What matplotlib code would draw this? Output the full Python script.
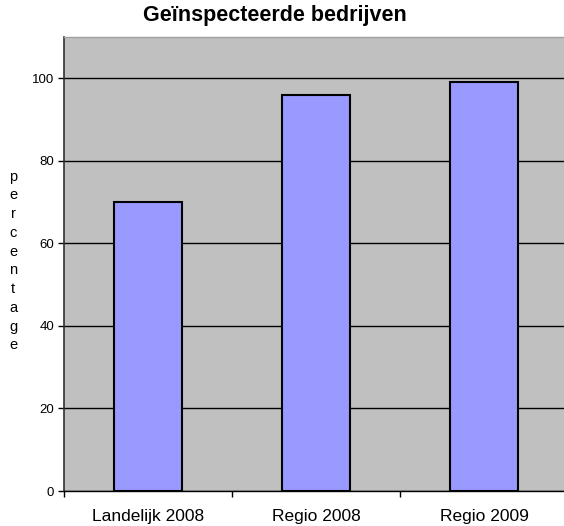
import numpy as np
import matplotlib
matplotlib.use("Agg")
import matplotlib.pyplot as plt

plt.rcParams["font.family"] = ["Liberation Sans", "DejaVu Sans"]

categories = ["Landelijk 2008", "Regio 2008", "Regio 2009"]
values = [70, 96, 99]
yticks = [0, 20, 40, 60, 80, 100]

fig = plt.figure(figsize=(5.64, 5.26), dpi=100)
# plot area runs slightly past the right edge, as in the original screenshot
ax = fig.add_axes([64 / 564, 35 / 526, 504 / 564, 454 / 526])
ax.set_facecolor("#c0c0c0")

xs = np.arange(len(categories))
ax.bar(xs, values, width=0.41, color="#9999ff", edgecolor="black",
       linewidth=1.5, zorder=3)

ax.set_xlim(-0.5, 2.5)
ax.set_ylim(0, 110)
ax.set_yticks(yticks)
ax.set_yticklabels([str(v) for v in yticks], fontsize=9.5)
ax.yaxis.grid(True, color="black", linewidth=1.0, zorder=1)
ax.set_axisbelow(True)

# category boundaries carry the ticks, labels sit in the middle
ax.set_xticks([-0.5, 0.5, 1.5, 2.5])
ax.set_xticklabels([])
ax.set_xticks(xs, minor=True)
ax.set_xticklabels(categories, minor=True, fontsize=12.5)
ax.tick_params(axis="x", which="minor", length=0, pad=13)
ax.tick_params(axis="x", which="major", length=4, width=1, direction="out")
ax.tick_params(axis="y", length=4, width=1, direction="out", pad=3)

ax.spines["right"].set_visible(False)
ax.spines["top"].set_color("#a0a0a0")
ax.spines["top"].set_linewidth(1.0)
ax.spines["left"].set_color("#303030")
ax.spines["left"].set_linewidth(1.2)
ax.spines["bottom"].set_color("black")
ax.spines["bottom"].set_linewidth(1.0)

fig.text(275 / 564, 1 - 16 / 526, "Geïnspecteerde bedrijven", ha="center",
         va="center", fontsize=15.5, fontweight="bold")
fig.text(13 / 564, 1 - 261 / 526, "\n".join("percentage"), ha="center",
         va="center", fontsize=10.5, linespacing=1.43)

fig.savefig("out.png", dpi=100)
